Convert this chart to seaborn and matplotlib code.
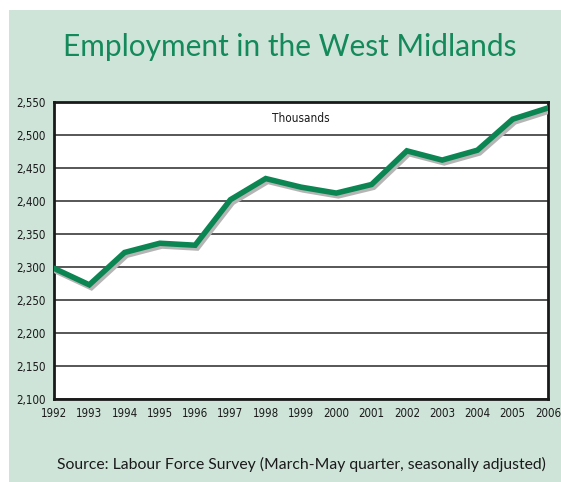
import numpy as np
import pandas as pd
import matplotlib
matplotlib.use('Agg')
import matplotlib.pyplot as plt
import matplotlib.patheffects as pe
from matplotlib.patches import Rectangle
import seaborn as sns

# data (thousands)
years = [1992, 1993, 1994, 1995, 1996, 1997, 1998, 1999, 2000, 2001, 2002, 2003, 2004, 2005, 2006]
employment = [2298, 2273, 2322, 2336, 2333, 2402, 2434, 2421, 2412, 2425, 2476, 2462, 2477, 2524, 2541]
y_ticks = [2100, 2150, 2200, 2250, 2300, 2350, 2400, 2450, 2500, 2550]

df = pd.DataFrame({'year': years, 'employment': employment})

sns.set_style('white')
plt.rcParams['font.family'] = ['Lato', 'DejaVu Sans']

panel_col = '#cfe4d9'
green = '#0b8552'
narrow = ['DejaVu Sans']

fig = plt.figure(figsize=(5.61, 4.82), dpi=100)
fig.patch.set_facecolor('white')
# light green panel behind everything
fig.patches.append(Rectangle((9 / 561, 0.0), 1.0, 1 - 10 / 482,
                             transform=fig.transFigure, facecolor=panel_col,
                             edgecolor='none', zorder=-10))

ax = fig.add_axes([54 / 561, 1 - 399 / 482, (548 - 54) / 561, (399 - 102) / 482])
ax.set_zorder(1)
ax.set_facecolor('white')

sns.lineplot(data=df, x='year', y='employment', ax=ax, color=green, linewidth=4,
             solid_joinstyle='miter', zorder=5,
             path_effects=[pe.SimpleLineShadow(offset=(1.5, -2), shadow_color='#b5b5b5', alpha=1),
                           pe.Normal()])

ax.set_xlim(1992, 2006)
ax.set_ylim(2100, 2550)
ax.set_xticks(years)
ax.set_yticks(y_ticks)
ax.set_xticklabels([str(y) for y in years])
ax.set_yticklabels([f'{v:,}' for v in y_ticks])
ax.yaxis.grid(True, color='#3a3a3a', linewidth=1.2)
ax.set_axisbelow(True)
ax.set_xlabel('')
ax.set_ylabel('')

for s in ax.spines.values():
    s.set_visible(True)
    s.set_color('#1a1a1a')
    s.set_linewidth(2)

ax.tick_params(axis='both', which='major', direction='out', length=4, width=1.5,
               color='#1a1a1a', pad=2)
for lab in ax.get_xticklabels() + ax.get_yticklabels():
    lab.set_family(narrow)
    lab.set_stretch('condensed')
    lab.set_fontsize(8.3)
    lab.set_color('#1a1a1a')

ax.text(0.5, 0.945, 'Thousands', transform=ax.transAxes, ha='center', va='center',
        fontsize=8.5, family=narrow, stretch='condensed', color='#1a1a1a')

fig.text(290 / 561, 1 - 47 / 482, 'Employment in the West Midlands', ha='center', va='center',
         fontsize=21.5, color='#14895a')
fig.text(301 / 561, 1 - 464 / 482, 'Source: Labour Force Survey (March-May quarter, seasonally adjusted)',
         ha='center', va='center', fontsize=11.3, color='#1a1a1a')

fig.savefig('out.png', dpi=100)
